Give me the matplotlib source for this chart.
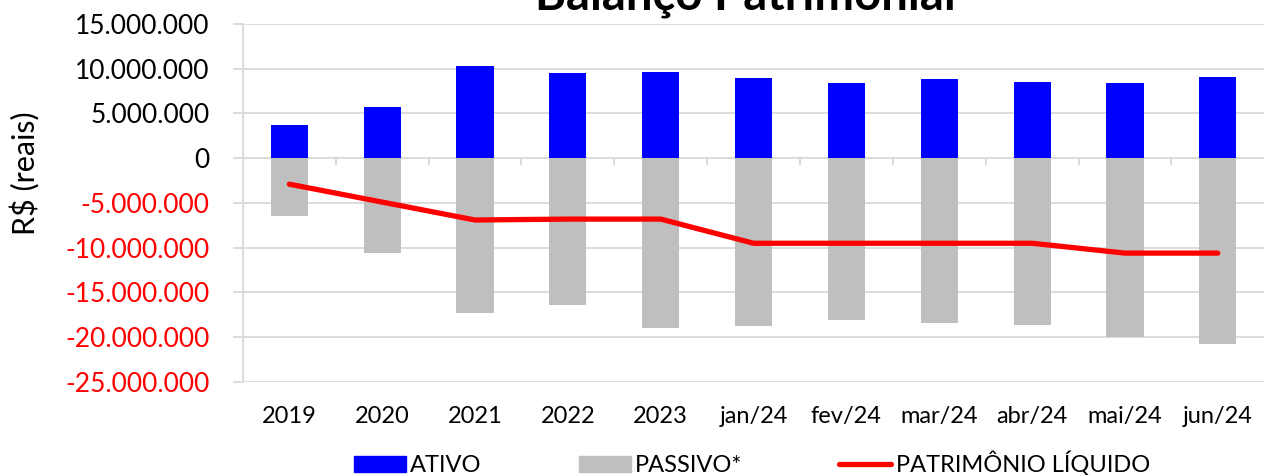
import numpy as np
import matplotlib
matplotlib.use("Agg")
import matplotlib.pyplot as plt
from matplotlib.ticker import FuncFormatter, MultipleLocator
from matplotlib.patches import Patch
from matplotlib.lines import Line2D

plt.rcParams['font.family'] = ['Lato', 'DejaVu Sans']

# dados
categorias = ['2019', '2020', '2021', '2022', '2023', 'jan/24', 'fev/24',
              'mar/24', 'abr/24', 'mai/24', 'jun/24']
ativo = [3.7e6, 5.7e6, 10.3e6, 9.5e6, 9.6e6, 9.0e6, 8.4e6, 8.8e6, 8.5e6, 8.4e6, 9.1e6]
passivo = [-6.5e6, -10.6e6, -17.3e6, -16.4e6, -19.0e6, -18.7e6, -18.1e6,
           -18.4e6, -18.6e6, -20.0e6, -20.8e6]
patrimonio = [-2.9e6, -4.9e6, -6.9e6, -6.8e6, -6.8e6, -9.5e6, -9.5e6,
              -9.5e6, -9.5e6, -10.6e6, -10.6e6]

fig = plt.figure(figsize=(12.68, 4.75), dpi=100)
ax = fig.add_axes([0.1916, 0.1958, 0.8054, 0.7537])

x = np.arange(len(categorias))
ax.bar(x, ativo, width=0.4, color='#0000FF', zorder=2)
ax.bar(x, passivo, width=0.4, color='#BFBFBF', zorder=2)
ax.plot(x, patrimonio, color='#FF0000', lw=3.8, solid_capstyle='round',
        solid_joinstyle='round', zorder=3)

ax.set_xlim(-0.5, len(categorias) - 0.5)
ax.set_ylim(-25e6, 15e6)
ax.yaxis.set_major_locator(MultipleLocator(5e6))
ax.yaxis.set_major_formatter(FuncFormatter(lambda v, p: f"{int(round(v)):,}".replace(",", ".")))
ax.grid(axis='y', color='#D9D9D9', lw=1.3, zorder=0)
ax.set_axisbelow(True)

# pequenos traços no eixo zero entre as categorias
ax.vlines(x[:-1] + 0.5, -0.7e6, 0, color='#D9D9D9', lw=1.3, zorder=1)

for s in ['top', 'right', 'bottom']:
    ax.spines[s].set_visible(False)
ax.spines['left'].set_color('#D9D9D9')
ax.spines['left'].set_linewidth(1.3)

ax.set_xticks(x)
ax.set_xticklabels(categorias, fontsize=17)
ax.tick_params(axis='x', length=0, pad=17)
ax.tick_params(axis='y', labelsize=19, length=7, color='#D9D9D9', width=1.3, pad=17)
for lbl, val in zip(ax.get_yticklabels(), ax.get_yticks()):
    if val < 0:
        lbl.set_color('#FF0000')

fig.text(25 / 1268, 1 - 173 / 475, 'R$ (reais)', rotation=90, fontsize=22,
         ha='center', va='center')
fig.text(745 / 1268, 1 - 10 / 475, 'Balanço Patrimonial', fontsize=34,
         fontweight='bold', ha='center', va='baseline')

handles = [Patch(color='#0000FF'), Patch(color='#BFBFBF'),
           Line2D([], [], color='#FF0000', lw=3.8, solid_capstyle='round')]
fig.legend(handles, ['ATIVO', 'PASSIVO*', 'PATRIMÔNIO LÍQUIDO'],
           loc='center', bbox_to_anchor=(752 / 1268, 1 - 464 / 475), ncol=3,
           frameon=False, fontsize=17, handlelength=2.2, handleheight=0.68,
           handletextpad=0.2, columnspacing=4.1, borderpad=0)

fig.savefig('out.png', dpi=100)
